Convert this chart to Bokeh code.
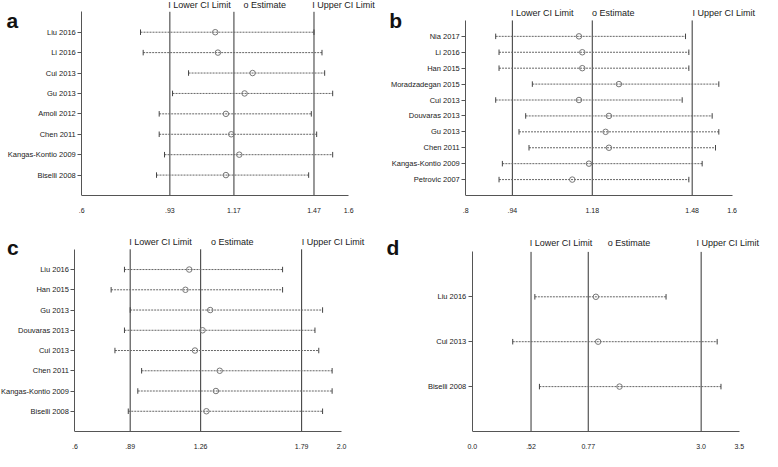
import numpy as np
from bokeh.plotting import figure
from bokeh.models import Range1d, FixedTicker, LinearAxis, ColumnDataSource
from bokeh.layouts import column, row
from bokeh.core.properties import value
from bokeh.embed import file_html
from bokeh.resources import INLINE

# ---------------- data ----------------
a_studies = ["Liu 2016", "Li 2016", "Cui 2013", "Gu 2013", "Amoli 2012",
             "Chen 2011", "Kangas-Kontio 2009", "Biselli 2008"]
a_est = [1.10, 1.11, 1.24, 1.21, 1.14, 1.16, 1.19, 1.14]
a_lo = [0.82, 0.83, 1.00, 0.94, 0.89, 0.89, 0.91, 0.88]
a_hi = [1.47, 1.50, 1.51, 1.54, 1.46, 1.48, 1.54, 1.45]
a_ref = [0.93, 1.17, 1.47]
a_ticks = [0.6, 0.93, 1.17, 1.47, 1.6]
a_tick_labels = [".6", ".93", "1.17", "1.47", "1.6"]

b_studies = ["Nia 2017", "Li 2016", "Han 2015", "Moradzadegan 2015", "Cui 2013",
             "Douvaras 2013", "Gu 2013", "Chen 2011", "Kangas-Kontio 2009", "Petrovic 2007"]
b_est = [1.14, 1.15, 1.15, 1.26, 1.14, 1.23, 1.22, 1.23, 1.17, 1.12]
b_lo = [0.89, 0.90, 0.90, 1.00, 0.89, 0.98, 0.96, 0.99, 0.91, 0.90]
b_hi = [1.46, 1.47, 1.47, 1.56, 1.45, 1.54, 1.56, 1.55, 1.51, 1.47]
b_ref = [0.94, 1.18, 1.48]
b_ticks = [0.8, 0.94, 1.18, 1.48, 1.6]
b_tick_labels = [".8", ".94", "1.18", "1.48", "1.6"]

c_studies = ["Liu 2016", "Han 2015", "Gu 2013", "Douvaras 2013", "Cui 2013",
             "Chen 2011", "Kangas-Kontio 2009", "Biselli 2008"]
c_est = [1.20, 1.18, 1.31, 1.27, 1.23, 1.36, 1.34, 1.29]
c_lo = [0.86, 0.79, 0.89, 0.86, 0.81, 0.95, 0.93, 0.88]
c_hi = [1.69, 1.69, 1.90, 1.86, 1.88, 1.95, 1.95, 1.90]
c_ref = [0.89, 1.26, 1.79]
c_ticks = [0.6, 0.89, 1.26, 1.79, 2.0]
c_tick_labels = [".6", ".89", "1.26", "1.79", "2.0"]

d_studies = ["Liu 2016", "Cui 2013", "Biselli 2008"]
d_est = [1.62, 1.65, 1.93]
d_lo = [0.82, 0.53, 0.88]
d_hi = [2.54, 3.21, 3.26]
d_ref = [0.77, 1.52, 3.0]
d_ticks = [0.0, 0.77, 1.52, 3.0, 3.5]
d_tick_labels = ["0.0", ".52", "0.77", "3.0", "3.5"]

legend_texts = ["I Lower CI Limit", "o Estimate", "I Upper CI Limit"]

FONT = "Liberation Sans"
TXT = "#1a1a1a"
SX = 762 / 778
SY = 451 / 467


def make_panel(studies, est, lo, hi, ref_lines, ticks, tick_labels, xr, size,
               frame_ref, legend_px, legend_cy, letter, letter_ref):
    W, H = size
    L, R = frame_ref[0] * SX, frame_ref[1] * SX
    T = frame_ref[2] * SY
    bottom_border = int(round(H - frame_ref[3] * SY))
    B = H - bottom_border
    n = len(studies)
    ppx = (R - L) / (xr[1] - xr[0])
    ppy = (B - T) / (n + 1)

    def dx(px):
        return xr[0] + (px * SX - L) / ppx

    def dy(py):
        return (py * SY - T) / ppy

    p = figure(width=W, height=H,
               x_range=Range1d(xr[0] - L / ppx, xr[0] + (W - L) / ppx),
               y_range=Range1d(n + 1, -T / ppy),
               x_axis_location=None, y_axis_location=None,
               output_backend="svg", toolbar_location=None,
               min_border_left=0, min_border_right=0,
               min_border_top=0, min_border_bottom=bottom_border)
    p.outline_line_color = None
    p.grid.visible = False
    p.background_fill_color = "white"
    p.border_fill_color = "white"

    # x axis (below the frame, line limited to the scale)
    xa = LinearAxis(ticker=FixedTicker(ticks=ticks), bounds=(xr[0], xr[1]))
    xa.major_label_overrides = {t: s for t, s in zip(ticks, tick_labels)}
    xa.axis_line_color = "#555555"
    xa.major_tick_line_color = None
    xa.minor_tick_line_color = None
    xa.major_label_text_font = FONT
    xa.major_label_text_font_size = "7px"
    xa.major_label_text_color = TXT
    xa.major_label_standoff = 6
    p.add_layout(xa, "below")

    # y axis (fixed at left end of x scale)
    rows = list(range(1, n + 1))
    ya = LinearAxis(fixed_location=xr[0], ticker=FixedTicker(ticks=rows),
                    bounds=(0, n + 1))
    ya.major_label_overrides = {i: s for i, s in zip(rows, studies)}
    ya.axis_line_color = "#555555"
    ya.major_tick_out = 4
    ya.major_tick_in = 0
    ya.major_tick_line_color = "#555555"
    ya.minor_tick_line_color = None
    ya.major_label_text_font = FONT
    ya.major_label_text_font_size = "7.5px"
    ya.major_label_text_color = TXT
    ya.major_label_standoff = 2
    p.add_layout(ya, "left")

    # reference lines
    p.segment(x0=ref_lines, x1=ref_lines, y0=[0] * len(ref_lines),
              y1=[n + 1] * len(ref_lines), line_color="#333333", line_width=1)

    src = ColumnDataSource(dict(y=rows, est=est, lo=lo, hi=hi))
    p.segment(x0="lo", x1="hi", y0="y", y1="y", source=src,
              line_color="#666666", line_width=1, line_dash="2 1")
    for col in ("lo", "hi"):
        p.scatter(x=col, y="y", source=src, marker="dash", angle=np.pi / 2,
                  size=5.5, line_color="#444444", line_width=1)
    p.scatter(x="est", y="y", source=src, marker="circle", size=5.5,
              fill_color=None, line_color="#777777", line_width=1)

    # legend row
    p.text(x=[dx(v) for v in legend_px], y=[dy(legend_cy)] * 3, text=legend_texts,
           text_font=value(FONT), text_font_size="9px", text_color=TXT,
           text_align="left", text_baseline="middle")

    # panel letter
    p.text(x=[dx(letter_ref[0])], y=[dy(letter_ref[1])], text=[letter],
           text_font=value(FONT), text_font_size="21px", text_font_style="bold",
           text_color="#111111", text_align="left", text_baseline="alphabetic")
    return p


pa = make_panel(a_studies, a_est, a_lo, a_hi, a_ref, a_ticks, a_tick_labels,
                (0.6, 1.6), (381, 225), (83.0, 355.5, 11.7, 202.0),
                [171.3, 248.0, 318.3], 4.5, "a", (6, 20.5))
pb = make_panel(b_studies, b_est, b_lo, b_hi, b_ref, b_ticks, b_tick_labels,
                (0.8, 1.6), (381, 225), (86.0, 358.0, 21.7, 212.3),
                [132.3, 215.0, 317.5], 13.7, "b", (8, 21.7))
pc = make_panel(c_studies, c_est, c_lo, c_hi, c_ref, c_ticks, c_tick_labels,
                (0.6, 2.0), (381, 226), (76.0, 348.3, 25.0, 216.0),
                [131.5, 215.0, 307.5], 17.8, "c", (6.7, 23.3))
pd_ = make_panel(d_studies, d_est, d_lo, d_hi, d_ref, d_ticks, d_tick_labels,
                 (0.0, 3.5), (381, 226), (92.7, 365.3, 28.0, 219.0),
                 [151.3, 231.0, 321.5], 19.0, "d", (5, 23.3))

layout = column(row(pa, pb), row(pc, pd_))

open("out.html", "w").write(file_html(layout, INLINE))
